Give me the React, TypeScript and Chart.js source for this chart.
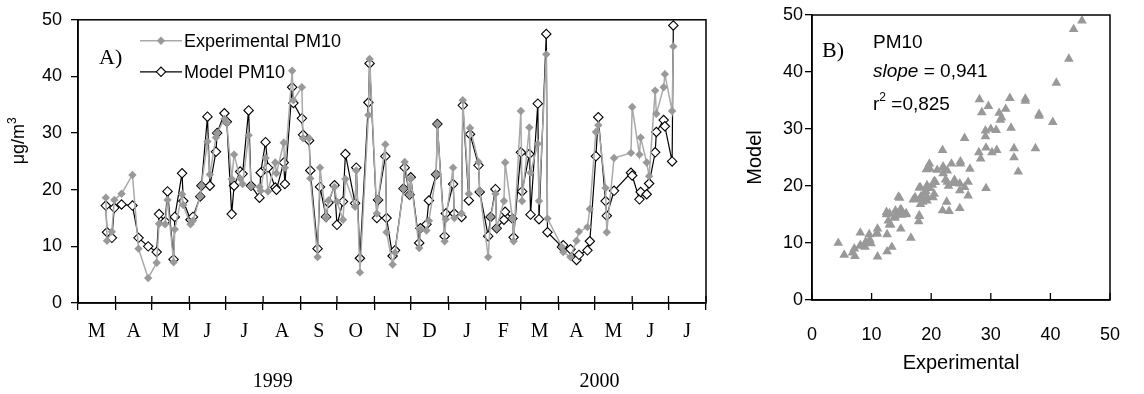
import React, { useEffect, useRef } from 'react';
import { Chart, registerables } from 'chart.js';

Chart.register(...registerables);

// ---- Data (days counted from 1 March 1999) ----
const sampleDays = [
  23, 24, 28, 30, 36, 45, 50, 58, 65, 67,
  72, 74, 79, 80, 86, 87, 93, 95, 101, 102,
  107, 109, 114, 115, 121, 123, 127, 129, 134, 136,
  141, 143, 150, 151, 155, 157, 163, 164, 170, 171,
  177, 178, 185, 186, 191, 192, 198, 200, 205, 207,
  212, 214, 219, 221, 229, 230, 233, 240, 241, 247,
  248, 254, 255, 260, 262, 269, 270, 274, 275, 282,
  283, 288, 290, 296, 297, 303, 304, 310, 311, 317,
  318, 323, 324, 331, 332, 339, 341, 345, 346, 352,
  353, 359, 360, 366, 367, 373, 374, 380, 381, 387,
  388, 400, 401, 407, 412, 414, 421, 423, 428, 430,
  436, 437, 443, 457, 458, 464, 465, 470, 472, 477,
  478, 484, 485, 491, 492,
];

const experimentalPM10 = [
  18.6, 11.0, 12.6, 18.2, 19.3, 22.6, 9.6, 4.4, 7.1, 14.0,
  13.9, 18.2, 7.2, 13.0, 19.2, 17.3, 13.9, 14.5, 18.9, 20.7,
  28.5, 22.7, 29.2, 30.0, 32.5, 31.8, 21.9, 26.2, 22.0, 21.0,
  29.6, 20.6, 20.5, 19.8, 25.6, 19.7, 24.8, 22.9, 28.3, 23.9,
  41.0, 35.8, 38.1, 29.1, 29.1, 22.0, 8.1, 23.9, 15.0, 18.1,
  20.5, 17.9, 14.7, 21.9, 17.0, 23.4, 5.4, 33.2, 43.1, 15.8,
  18.3, 28.0, 12.5, 6.8, 8.9, 20.2, 24.9, 19.1, 22.0, 9.7,
  13.0, 12.8, 14.5, 22.7, 31.6, 10.9, 14.8, 23.9, 15.0, 15.8,
  35.8, 19.3, 30.9, 24.9, 19.8, 8.1, 15.2, 19.3, 13.2, 18.0,
  24.8, 15.0, 10.9, 33.9, 18.0, 31.0, 23.0, 28.1, 18.0, 43.9,
  14.9, 9.9, 9.0, 8.1, 11.0, 12.6, 13.4, 16.6, 30.2, 31.4,
  20.3, 12.5, 25.6, 26.5, 34.6, 26.2, 29.2, 24.8, 22.4, 37.5,
  33.4, 38.1, 40.4, 33.9, 45.3,
];

const modelPM10 = [
  17.2, 12.5, 11.5, 16.8, 17.4, 17.2, 11.5, 10.0, 9.0, 15.7,
  14.4, 19.7, 7.7, 15.2, 22.9, 18.0, 14.7, 15.2, 18.8, 20.7,
  32.9, 20.7, 26.7, 30.0, 33.5, 32.0, 15.7, 20.7, 23.2, 22.8,
  34.0, 20.7, 18.6, 23.0, 28.4, 23.9, 20.4, 20.0, 24.8, 21.0,
  38.1, 35.3, 32.6, 29.7, 28.7, 23.4, 9.6, 20.5, 15.2, 17.7,
  20.8, 13.8, 17.9, 26.3, 17.6, 23.9, 7.9, 35.4, 42.3, 15.0,
  18.2, 25.9, 15.0, 8.3, 9.3, 20.2, 23.9, 19.1, 22.2, 10.6,
  13.2, 13.9, 18.1, 22.7, 31.6, 11.8, 15.8, 21.0, 15.8, 15.2,
  34.9, 18.1, 29.8, 24.3, 19.6, 11.8, 15.2, 20.1, 13.2, 14.7,
  16.1, 14.9, 11.6, 26.6, 19.7, 26.3, 15.6, 35.2, 14.8, 47.5,
  12.5, 9.9, 10.2, 9.5, 7.6, 8.5, 9.3, 10.9, 25.9, 32.8,
  18.0, 15.4, 19.8, 23.0, 22.5, 18.3, 19.6, 19.2, 21.1, 26.6,
  30.2, 32.3, 31.2, 25.0, 49.0,
];

const monthStartDays = [0, 31, 61, 92, 122, 153, 184, 214, 245, 275, 306, 337, 366, 397, 427, 458, 488, 519];
const monthLabels = ['M', 'A', 'M', 'J', 'J', 'A', 'S', 'O', 'N', 'D', 'J', 'F', 'M', 'A', 'M', 'J', 'J'];
const yearLabels = ['1999', '2000'];
const yearLabelDays = [161, 431];
const concentrationTicks = [0, 10, 20, 30, 40, 50];
const scatterTicks = [0, 10, 20, 30, 40, 50];
const seriesLabels = ['Experimental PM10', 'Model PM10'];
const scatterTitle = 'PM10';
const slopeValue = '0,941';
const r2Value = '0,825';

const monthMidDays = monthStartDays.slice(0, -1).map((d, i) => (d + monthStartDays[i + 1]) / 2);

const SANS = '"Liberation Sans", Arial, sans-serif';
const SERIF = '"Liberation Serif", "Times New Roman", serif';
const GRAY = '#999999';
const GRAY_LINE = '#a9a9a9';

function diamondPath(ctx: CanvasRenderingContext2D, x: number, y: number, r: number) {
  ctx.beginPath();
  ctx.moveTo(x - r, y);
  ctx.lineTo(x, y - r);
  ctx.lineTo(x + r, y);
  ctx.lineTo(x, y + r);
  ctx.closePath();
}

const panelAExtras = {
  id: 'panelAExtras',
  afterDraw(chart: any) {
    const { ctx, chartArea: a, scales } = chart;
    ctx.save();
    ctx.strokeStyle = '#000';
    ctx.lineWidth = 1.5;
    ctx.strokeRect(a.left, a.top, a.right - a.left, a.bottom - a.top);
    // inner half of the month tick marks
    ctx.lineWidth = 1.3;
    monthStartDays.forEach((d) => {
      const px = scales.x.getPixelForValue(d);
      ctx.beginPath();
      ctx.moveTo(px, a.bottom);
      ctx.lineTo(px, a.bottom - 7);
      ctx.stroke();
    });
    // panel letter
    ctx.fillStyle = '#000';
    ctx.font = `22px ${SERIF}`;
    ctx.textAlign = 'left';
    ctx.textBaseline = 'alphabetic';
    ctx.fillText('A)', a.left + 21, a.top + 44);
    // legend
    const lx = a.left + 62;
    const ly0 = a.top + 21;
    chart.data.datasets.forEach((ds: any, i: number) => {
      const y = ly0 + i * 31;
      ctx.strokeStyle = ds.borderColor;
      ctx.lineWidth = ds.borderWidth;
      ctx.beginPath();
      ctx.moveTo(lx, y);
      ctx.lineTo(lx + 42, y);
      ctx.stroke();
      diamondPath(ctx, lx + 21, y, ds.pointRadius);
      ctx.fillStyle = ds.pointBackgroundColor;
      ctx.fill();
      if (ds.pointBorderWidth) {
        ctx.lineWidth = ds.pointBorderWidth;
        ctx.strokeStyle = ds.pointBorderColor;
        ctx.stroke();
      }
      ctx.fillStyle = '#000';
      ctx.font = `18px ${SANS}`;
      ctx.textBaseline = 'middle';
      ctx.textAlign = 'left';
      ctx.fillText(ds.label, lx + 44, y + 1);
    });
    // y axis title with superscript
    ctx.translate(19, a.top + 121);
    ctx.rotate(-Math.PI / 2);
    ctx.font = `18px ${SANS}`;
    const w1 = ctx.measureText('μg/m').width;
    ctx.font = `12px ${SANS}`;
    const w2 = ctx.measureText('3').width;
    const start = -(w1 + w2) / 2;
    ctx.textAlign = 'left';
    ctx.textBaseline = 'middle';
    ctx.font = `18px ${SANS}`;
    ctx.fillText('μg/m', start, 0);
    ctx.font = `12px ${SANS}`;
    ctx.fillText('3', start + w1, -6);
    ctx.restore();
  },
};

const panelBExtras = {
  id: 'panelBExtras',
  afterDraw(chart: any) {
    const { ctx, chartArea: a, scales } = chart;
    ctx.save();
    ctx.strokeStyle = '#000';
    ctx.lineWidth = 1.5;
    ctx.strokeRect(a.left, a.top, a.right - a.left, a.bottom - a.top);
    ctx.lineWidth = 1.3;
    scatterTicks.forEach((v) => {
      const px = scales.x.getPixelForValue(v);
      ctx.beginPath();
      ctx.moveTo(px, a.bottom);
      ctx.lineTo(px, a.bottom - 7);
      ctx.stroke();
    });
    ctx.fillStyle = '#000';
    ctx.textAlign = 'left';
    ctx.textBaseline = 'alphabetic';
    ctx.font = `22px ${SERIF}`;
    ctx.fillText('B)', a.left + 10, a.top + 42);
    const tx = a.left + 61;
    ctx.font = `19px ${SANS}`;
    ctx.fillText(scatterTitle, tx, a.top + 33);
    ctx.font = `italic 19px ${SANS}`;
    const ws = ctx.measureText('slope').width;
    ctx.fillText('slope', tx, a.top + 62);
    ctx.font = `19px ${SANS}`;
    ctx.fillText(' = ' + slopeValue, tx + ws, a.top + 62);
    const wr = ctx.measureText('r').width;
    ctx.fillText('r', tx, a.top + 95);
    ctx.font = `12px ${SANS}`;
    const w2 = ctx.measureText('2').width;
    ctx.fillText('2', tx + wr, a.top + 86);
    ctx.font = `19px ${SANS}`;
    ctx.fillText(' =' + r2Value, tx + wr + w2, a.top + 95);
    ctx.restore();
  },
};

function configA(): any {
  return {
    type: 'line',
    data: {
      datasets: [
        {
          label: seriesLabels[0],
          data: sampleDays.map((d, i) => ({ x: d, y: experimentalPM10[i] })),
          xAxisID: 'x',
          yAxisID: 'y',
          borderColor: GRAY_LINE,
          borderWidth: 1.5,
          pointStyle: 'rectRot',
          pointRadius: 4.2,
          pointBackgroundColor: GRAY,
          pointBorderColor: GRAY,
          pointBorderWidth: 0,
          tension: 0,
          order: 0,
        },
        {
          label: seriesLabels[1],
          data: sampleDays.map((d, i) => ({ x: d, y: modelPM10[i] })),
          xAxisID: 'x',
          yAxisID: 'y',
          borderColor: '#000000',
          borderWidth: 1.2,
          pointStyle: 'rectRot',
          pointRadius: 4.7,
          pointBackgroundColor: '#ffffff',
          pointBorderColor: '#000000',
          pointBorderWidth: 1.1,
          tension: 0,
          order: 1,
        },
      ],
    },
    options: {
      responsive: false,
      animation: false,
      devicePixelRatio: 1,
      layout: { padding: { left: 0, right: 16, top: 15, bottom: 0 } },
      plugins: { legend: { display: false }, tooltip: { enabled: false } },
      scales: {
        x: {
          type: 'linear',
          axis: 'x',
          position: 'bottom',
          weight: 0,
          min: 0,
          max: 519,
          afterBuildTicks: (s: any) => {
            s.ticks = monthStartDays.map((v) => ({ value: v }));
          },
          afterFit: (s: any) => {
            s.height = 8;
          },
          ticks: { autoSkip: false, callback: () => '', maxRotation: 0 },
          grid: { drawOnChartArea: false, drawTicks: true, tickLength: 7, color: '#000', lineWidth: 1.3 },
          border: { color: '#000', width: 1.5 },
        },
        xm: {
          type: 'linear',
          axis: 'x',
          position: 'bottom',
          weight: 1,
          min: 0,
          max: 519,
          afterBuildTicks: (s: any) => {
            s.ticks = monthMidDays.map((v) => ({ value: v }));
          },
          afterFit: (s: any) => {
            s.height = 45;
          },
          ticks: {
            autoSkip: false,
            maxRotation: 0,
            minRotation: 0,
            padding: 1,
            color: '#000',
            font: { family: SERIF, size: 20 },
            callback: (_v: any, i: number) => monthLabels[i],
          },
          grid: { display: false },
          border: { display: false },
        },
        xy: {
          type: 'linear',
          axis: 'x',
          position: 'bottom',
          weight: 2,
          min: 0,
          max: 519,
          afterBuildTicks: (s: any) => {
            s.ticks = yearLabelDays.map((v) => ({ value: v }));
          },
          afterFit: (s: any) => {
            s.height = 38;
          },
          ticks: {
            autoSkip: false,
            maxRotation: 0,
            minRotation: 0,
            padding: 6,
            color: '#000',
            font: { family: SERIF, size: 20 },
            callback: (_v: any, i: number) => yearLabels[i],
          },
          grid: { display: false },
          border: { display: false },
        },
        y: {
          type: 'linear',
          position: 'left',
          min: 0,
          max: 50,
          afterBuildTicks: (s: any) => {
            s.ticks = concentrationTicks.map((v) => ({ value: v }));
          },
          afterFit: (s: any) => {
            s.width = 78;
          },
          ticks: { color: '#000', padding: 9, font: { family: SANS, size: 18 } },
          grid: { drawOnChartArea: false, tickLength: 7, color: '#000', lineWidth: 1.3 },
          border: { color: '#000', width: 1.5 },
        },
      },
    },
    plugins: [panelAExtras],
  };
}

function configB(): any {
  return {
    type: 'scatter',
    data: {
      datasets: [
        {
          label: scatterTitle,
          data: experimentalPM10.map((e, i) => ({ x: e, y: modelPM10[i] })),
          pointStyle: 'triangle',
          pointRadius: 5.6,
          pointBackgroundColor: GRAY,
          pointBorderColor: GRAY,
          pointBorderWidth: 0,
        },
      ],
    },
    options: {
      responsive: false,
      animation: false,
      devicePixelRatio: 1,
      layout: { padding: { left: 0, right: 19, top: 15, bottom: 0 } },
      plugins: { legend: { display: false }, tooltip: { enabled: false } },
      scales: {
        x: {
          type: 'linear',
          position: 'bottom',
          min: 0,
          max: 50,
          afterBuildTicks: (s: any) => {
            s.ticks = scatterTicks.map((v) => ({ value: v }));
          },
          afterFit: (s: any) => {
            s.height = 94;
          },
          ticks: { color: '#000', padding: 24, maxRotation: 0, font: { family: SANS, size: 18 } },
          grid: { drawOnChartArea: false, drawTicks: false },
          border: { color: '#000', width: 1.5 },
          title: {
            display: true,
            text: 'Experimental',
            color: '#000',
            font: { family: SANS, size: 20 },
            padding: { top: 0, bottom: 19 },
          },
        },
        y: {
          type: 'linear',
          position: 'left',
          min: 0,
          max: 50,
          afterBuildTicks: (s: any) => {
            s.ticks = scatterTicks.map((v) => ({ value: v }));
          },
          afterFit: (s: any) => {
            s.width = 76;
          },
          ticks: { color: '#000', padding: 2, font: { family: SANS, size: 18 } },
          grid: { drawOnChartArea: false, tickLength: 7, color: '#000', lineWidth: 1.3 },
          border: { color: '#000', width: 1.5 },
          title: {
            display: true,
            text: 'Model',
            color: '#000',
            font: { family: SANS, size: 20 },
            padding: { top: 7, bottom: 0 },
          },
        },
      },
    },
    plugins: [panelBExtras],
  };
}

export default function App() {
  const refA = useRef<HTMLCanvasElement>(null);
  const refB = useRef<HTMLCanvasElement>(null);

  useEffect(() => {
    const chartA = new Chart(refA.current as HTMLCanvasElement, configA());
    const chartB = new Chart(refB.current as HTMLCanvasElement, configB());
    return () => {
      chartA.destroy();
      chartB.destroy();
    };
  }, []);

  return (
    <div style={{ position: 'fixed', left: 0, top: 0, width: 1144, height: 394, background: '#fff' }}>
      <canvas
        ref={refA}
        width={722}
        height={394}
        style={{ position: 'absolute', left: 0, top: 0, width: 722, height: 394 }}
      />
      <canvas
        ref={refB}
        width={408}
        height={394}
        style={{ position: 'absolute', left: 736, top: 0, width: 408, height: 394 }}
      />
    </div>
  );
}
